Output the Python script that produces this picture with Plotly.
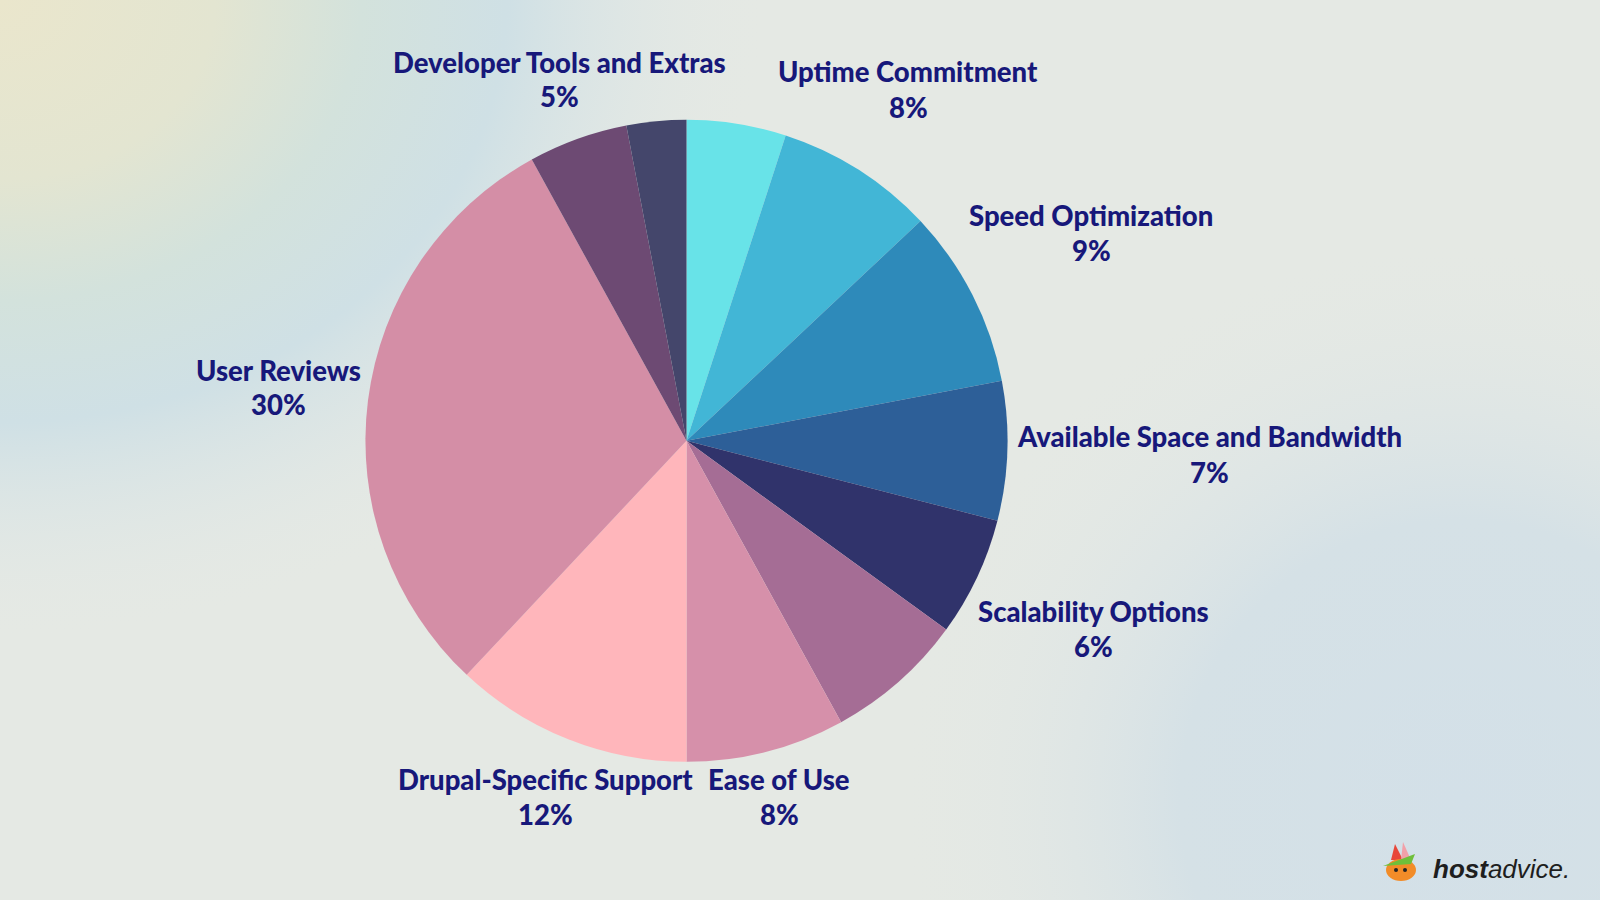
import base64
import plotly.graph_objects as go

# ---- data (clockwise from 12 o'clock) ----
slice_ids = ["Unlabeled A", "Uptime Commitment", "Speed Optimization",
             "Available Space and Bandwidth", "Scalability Options", "Unlabeled B",
             "Ease of Use", "Drupal-Specific Support", "User Reviews",
             "Developer Tools and Extras", "Unlabeled C"]
values = [5, 8, 9, 7, 6, 7, 8, 12, 30, 5, 3]
colors = ["#68e3e8", "#42b6d6", "#2e8aba", "#2d5f98", "#30336b", "#a56d95",
          "#d690aa", "#ffb6bb", "#d48ea6", "#6d4a73", "#44466b"]
shown_labels = ["Uptime Commitment", "Speed Optimization", "Available Space and Bandwidth",
                "Scalability Options", "Ease of Use", "Drupal-Specific Support",
                "User Reviews", "Developer Tools and Extras"]

# label anchor positions in pixels (x center, y of first line)
label_pos = {
    "Developer Tools and Extras": (559, 62),
    "Uptime Commitment": (908, 72),
    "Speed Optimization": (1091, 215),
    "Available Space and Bandwidth": (1209, 437),
    "Scalability Options": (1093, 611),
    "Ease of Use": (779, 779),
    "Drupal-Specific Support": (545, 779),
    "User Reviews": (278, 370),
}

W, H = 1600, 900
TXT = "#17187a"
FONT = "Lato"

fig = go.Figure(go.Pie(
    labels=slice_ids, values=values, sort=False, direction="clockwise", rotation=0,
    marker=dict(colors=colors, line=dict(width=0)),
    textinfo="none", hoverinfo="label+percent", showlegend=False,
    domain=dict(x=[0.2284, 0.6297], y=[0.1531, 0.8673]),
))

annotations = []
for name in shown_labels:
    v = values[slice_ids.index(name)]
    px, py = label_pos[name]
    annotations.append(dict(x=px / W, y=1 - py / H, xref="paper", yref="paper",
                            text=name, showarrow=False,
                            font=dict(family=FONT, size=27.5, color=TXT, weight=900),
                            xanchor="center", yanchor="middle"))
    annotations.append(dict(x=px / W, y=1 - (py + 35) / H, xref="paper", yref="paper",
                            text=f"{v}%", showarrow=False,
                            font=dict(family=FONT, size=27.5, color=TXT, weight=900),
                            xanchor="center", yanchor="middle"))

# logo text
annotations.append(dict(x=1572 / W, y=1 - 869 / H, xref="paper", yref="paper",
                        text="<b><i>host</i></b><i>advice.</i>", showarrow=False,
                        font=dict(family="Liberation Sans", size=26, color="#1e1e1e"),
                        xanchor="right", yanchor="middle"))

# background gradient as svg image
svg = f'''<svg xmlns="http://www.w3.org/2000/svg" width="{W}" height="{H}" viewBox="0 0 {W} {H}">
<defs>
<radialGradient id="tl" cx="0" cy="0" r="640" gradientUnits="userSpaceOnUse" gradientTransform="scale(1.2,1)">
<stop offset="0" stop-color="#eae6cc"/>
<stop offset="0.28" stop-color="#e3e5d1"/>
<stop offset="0.47" stop-color="#d3e2dc"/>
<stop offset="0.66" stop-color="#cfe0e5"/>
<stop offset="1" stop-color="#e5e9e5" stop-opacity="0"/>
</radialGradient>
<radialGradient id="br" cx="1460" cy="800" r="560" gradientUnits="userSpaceOnUse">
<stop offset="0" stop-color="#d3e0e8"/>
<stop offset="0.5" stop-color="#d5e1e6"/>
<stop offset="1" stop-color="#e5e9e5" stop-opacity="0"/>
</radialGradient>
</defs>
<rect width="{W}" height="{H}" fill="#e5e9e4"/>
<rect width="{W}" height="{H}" fill="url(#br)"/>
<rect width="{W}" height="{H}" fill="url(#tl)"/>
<g transform="translate(1405,868)">
<polygon points="-10,-24 -2,-8 -14,-8" fill="#e8473a"/>
<polygon points="-2,-26 6,-8 -4,-8" fill="#f2a0a8"/>
<ellipse cx="-4" cy="2" rx="15" ry="11" fill="#f28c28"/>
<polygon points="-22,-2 10,-14 6,-4" fill="#6fbf3a"/>
<circle cx="-9" cy="2" r="2" fill="#222"/><circle cx="0" cy="2" r="2" fill="#222"/>
</g>
</svg>'''
src = "data:image/svg+xml;base64," + base64.b64encode(svg.encode()).decode()

fig.update_layout(
    width=W, height=H, margin=dict(l=0, r=0, t=0, b=0),
    paper_bgcolor="#e5e9e4", plot_bgcolor="rgba(0,0,0,0)",
    annotations=annotations,
    images=[dict(source=src, xref="paper", yref="paper", x=0, y=1, sizex=1, sizey=1,
                 xanchor="left", yanchor="top", sizing="stretch", layer="below")],
)

fig.write_html("out.html")
